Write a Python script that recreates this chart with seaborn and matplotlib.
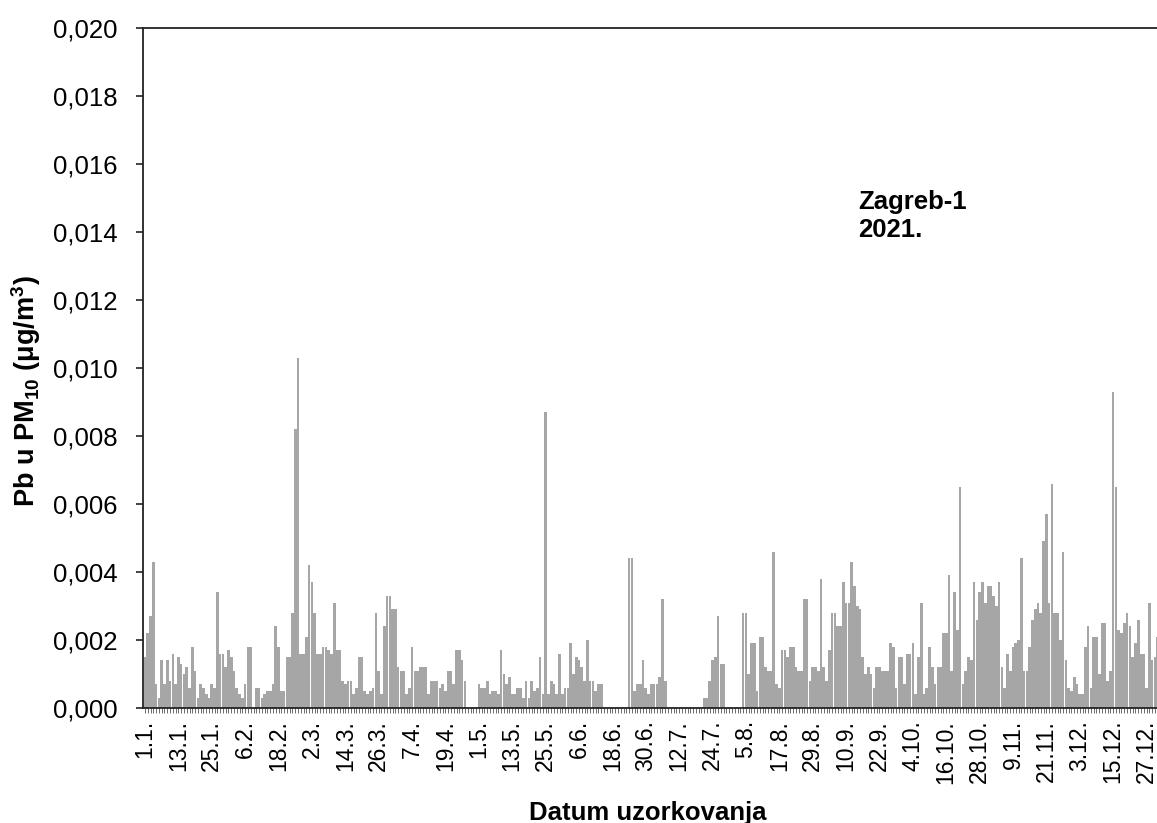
import numpy as np
import pandas as pd
import matplotlib
matplotlib.use("Agg")
import matplotlib.pyplot as plt
from matplotlib.ticker import FuncFormatter
import seaborn as sns

# Daily Pb in PM10 (µg/m3), Zagreb-1, 2021 — one list per month
jan = [0.0015, 0.0022, 0.0027, 0.0043, 0.0007, 0.0003, 0.0014, 0.0007, 0.0014, 0.0008,
       0.0016, 0.0007, 0.0015, 0.0013, 0.0010, 0.0012, 0.0006, 0.0018, 0.0011, 0.0003,
       0.0007, 0.0006, 0.0004, 0.0003, 0.0007, 0.0006, 0.0034, 0.0016, 0.0016, 0.0012,
       0.0017]
feb = [0.0015, 0.0011, 0.0006, 0.0004, 0.0003, 0.0007, 0.0018, 0.0018, 0.0000,
       0.0006, 0.0006, 0.0003, 0.0004, 0.0005, 0.0005, 0.0007, 0.0024, 0.0018, 0.0005,
       0.0005, 0.0015, 0.0015, 0.0028, 0.0082, 0.0103, 0.0016, 0.0016, 0.0021]
mar = [0.0042,
       0.0037, 0.0028, 0.0016, 0.0016, 0.0018, 0.0018, 0.0017, 0.0016, 0.0031, 0.0017,
       0.0017, 0.0008, 0.0007, 0.0008, 0.0008, 0.0004, 0.0006, 0.0015, 0.0015, 0.0005,
       0.0004, 0.0005, 0.0006, 0.0028, 0.0011, 0.0004, 0.0024, 0.0033, 0.0033, 0.0029]
apr = [0.0029, 0.0012, 0.0011, 0.0011, 0.0004, 0.0006, 0.0018, 0.0011, 0.0011, 0.0012,
       0.0012, 0.0012, 0.0004, 0.0008, 0.0008, 0.0008, 0.0006, 0.0007, 0.0005, 0.0011,
       0.0011, 0.0007, 0.0017, 0.0017, 0.0014, 0.0008, 0.0, 0.0, 0.0, 0.0]
may = [0.0007, 0.0006, 0.0006, 0.0008, 0.0004, 0.0005, 0.0005, 0.0004, 0.0017, 0.0010,
       0.0007, 0.0009, 0.0004, 0.0004, 0.0006, 0.0006, 0.0003, 0.0008, 0.0003, 0.0008,
       0.0005, 0.0006, 0.0015, 0.0004, 0.0087, 0.0004, 0.0008, 0.0007, 0.0004, 0.0016,
       0.0004]
jun = [0.0006, 0.0006, 0.0019, 0.0010, 0.0015, 0.0014, 0.0012, 0.0008, 0.0020,
       0.0008, 0.0008, 0.0005, 0.0007, 0.0007, 0.0, 0.0, 0.0, 0.0, 0.0,
       0.0, 0.0, 0.0, 0.0, 0.0044, 0.0044, 0.0005, 0.0007, 0.0007, 0.0014,
       0.0006]
jul = [0.0004, 0.0007, 0.0007, 0.0007, 0.0009, 0.0032, 0.0008, 0.0, 0.0,
       0.0, 0.0, 0.0, 0.0, 0.0, 0.0, 0.0, 0.0, 0.0, 0.0,
       0.0, 0.0003, 0.0003, 0.0008, 0.0014, 0.0015, 0.0027, 0.0013, 0.0013, 0.0,
       0.0, 0.0]
aug = [0.0, 0.0, 0.0, 0.0028, 0.0028, 0.0010, 0.0019, 0.0019,
       0.0005, 0.0021, 0.0021, 0.0012, 0.0011, 0.0011, 0.0046, 0.0007, 0.0006, 0.0017,
       0.0017, 0.0015, 0.0018, 0.0018, 0.0012, 0.0011, 0.0011, 0.0032, 0.0032, 0.0008,
       0.0012, 0.0012, 0.0011]
sep = [0.0038, 0.0012, 0.0008, 0.0017, 0.0028, 0.0028, 0.0024,
       0.0024, 0.0037, 0.0031, 0.0031, 0.0043, 0.0036, 0.0030, 0.0029, 0.0015, 0.0010,
       0.0012, 0.0010, 0.0006, 0.0012, 0.0012, 0.0011, 0.0011, 0.0011, 0.0019, 0.0018,
       0.0006, 0.0015, 0.0015]
oct_ = [0.0007, 0.0016, 0.0016, 0.0019, 0.0004, 0.0015, 0.0031,
        0.0004, 0.0006, 0.0018, 0.0012, 0.0007, 0.0012, 0.0012, 0.0022, 0.0022, 0.0039,
        0.0011, 0.0034, 0.0023, 0.0065, 0.0007, 0.0011, 0.0015, 0.0014, 0.0037, 0.0026,
        0.0034, 0.0037, 0.0031, 0.0036]
nov = [0.0036, 0.0033, 0.0030, 0.0037, 0.0012, 0.0006,
       0.0016, 0.0011, 0.0018, 0.0019, 0.0020, 0.0044, 0.0011, 0.0011, 0.0018, 0.0026,
       0.0029, 0.0031, 0.0028, 0.0049, 0.0057, 0.0031, 0.0066, 0.0028, 0.0028, 0.0020,
       0.0046, 0.0014, 0.0006, 0.0005]
dec = [0.0009, 0.0007, 0.0004, 0.0004, 0.0018, 0.0024,
       0.0006, 0.0021, 0.0021, 0.0010, 0.0025, 0.0025, 0.0008, 0.0011, 0.0093, 0.0065,
       0.0023, 0.0022, 0.0025, 0.0028, 0.0024, 0.0015, 0.0019, 0.0026, 0.0016, 0.0016,
       0.0006, 0.0031, 0.0014, 0.0015, 0.0021]

tick_labels = ["1.1.", "13.1.", "25.1.", "6.2.", "18.2.", "2.3.", "14.3.", "26.3.",
               "7.4.", "19.4.", "1.5.", "13.5.", "25.5.", "6.6.", "18.6.", "30.6.",
               "12.7.", "24.7.", "5.8.", "17.8.", "29.8.", "10.9.", "22.9.", "4.10.",
               "16.10.", "28.10.", "9.11.", "21.11.", "3.12.", "15.12.", "27.12."]

values = jan + feb + mar + apr + may + jun + jul + aug + sep + oct_ + nov + dec
df = pd.DataFrame({"dan": np.arange(len(values)), "pb": values})

sns.set_style("white")
plt.rcParams["font.family"] = ["Liberation Sans", "DejaVu Sans"]
plt.rcParams["mathtext.fontset"] = "custom"
plt.rcParams["mathtext.rm"] = "Liberation Sans:bold"
plt.rcParams["mathtext.it"] = "Liberation Sans:bold"
plt.rcParams["mathtext.bf"] = "Liberation Sans:bold"
plt.rcParams["mathtext.default"] = "rm"
for key in ("text.color", "axes.labelcolor", "xtick.labelcolor", "ytick.labelcolor"):
    plt.rcParams[key] = "black"

W, H = 1157, 823
fig = plt.figure(figsize=(W / 100, H / 100), dpi=100)
ax = fig.add_axes([143 / W, 1 - 708 / H, 1015.5 / W, 680 / H])

sns.barplot(data=df, x="dan", y="pb", color="#a6a6a6", saturation=1,
            width=0.95, linewidth=0, ax=ax)

ax.set_xlim(-0.72, 364.3)
ax.set_ylim(0, 0.020)

ax.set_yticks(np.arange(0, 0.0201, 0.002))
ax.yaxis.set_major_formatter(FuncFormatter(lambda v, p: f"{v:.3f}".replace(".", ",")))
ax.set_xticks(np.arange(0, 365, 12))
ax.set_xticklabels(tick_labels, rotation=90)
ax.set_xticks(np.arange(365), minor=True)

ax.tick_params(axis="y", which="major", direction="out", length=5, width=1.2,
               color="#222222", labelcolor="black", labelsize=18.5, pad=13, left=True)
ax.tick_params(axis="x", which="both", direction="out", length=3.5, width=0.6,
               color="#555555", labelcolor="black", labelsize=16.5, pad=5, bottom=True)

for side in ("left", "top", "bottom"):
    ax.spines[side].set_visible(True)
    ax.spines[side].set_color("#222222")
    ax.spines[side].set_linewidth(1.3)
ax.spines["right"].set_visible(False)

ax.set_ylabel(r"Pb u PM$_{10}$ ($\mu$g/m$^{3}$)", fontsize=19.5, fontweight="bold",
              color="black")
ax.yaxis.set_label_coords(-0.098, 0.466)
ax.set_xlabel("Datum uzorkovanja", fontsize=18.5, fontweight="bold", color="black")
ax.xaxis.set_label_coords(0.497, -0.137)

ax.text(0.704, 0.762, "Zagreb-1\n2021.", transform=ax.transAxes, color="black",
        fontsize=18.5, fontweight="bold", va="top", ha="left", linespacing=1.2)

fig.savefig("out.png", dpi=100)
